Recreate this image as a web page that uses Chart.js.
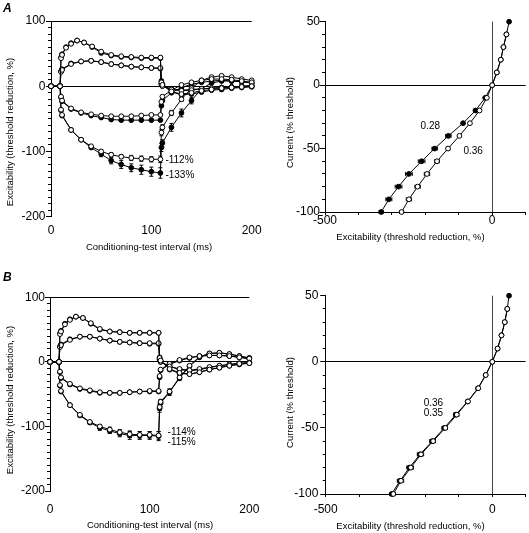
<!DOCTYPE html>
<html>
<head>
<meta charset="utf-8">
<script src="https://cdn.jsdelivr.net/npm/chart.js@4.4.1/dist/chart.umd.min.js"></script>
<style>
  html, body { margin: 0; padding: 0; background: #fff; }
  #fig { position: relative; width: 529px; height: 533px; overflow: hidden; background: #fff; }
  #fig canvas { position: absolute; }
</style>
</head>
<body>
<div id="fig">
  <canvas id="teA" width="265" height="260" style="left:0px;top:0px"></canvas>
  <canvas id="ivA" width="264" height="260" style="left:265px;top:0px"></canvas>
  <canvas id="teB" width="265" height="273" style="left:0px;top:260px"></canvas>
  <canvas id="ivB" width="264" height="273" style="left:265px;top:260px"></canvas>
</div>
<script>
// ---------------- data ----------------
// Threshold electrotonus: conditioning-test interval (ms)
const timesFine   = [0, 9, 10, 11, 15, 20, 26, 33, 41, 50, 60, 70, 80, 90, 100, 109, 110, 111, 120, 130, 140, 150, 160, 170, 180, 190, 200];
const timesCoarse = [0, 9, 10, 11, 20, 30, 40, 50, 60, 70, 80, 90, 100, 109, 110, 111, 120, 130, 140, 150, 160, 170, 180, 190, 200];

// Panel A, threshold reduction (%)
const A_TEd40_open   = [0, 0, 43, 48, 59, 65, 70, 67, 61, 53, 48, 46, 45, 44, 44, 44, 6, 2, -8, -12, -10, -7, -5, -3, -2, -1, 0];
const A_TEd40_filled = [0, 0, 44, 49, 60, 66, 70, 67, 60, 51, 47, 45, 44, 43, 43, 43, 8, 3, -9, -13, -12, -9, -6, -5, -3, -2, -1];
const A_TEd20_open   = [0, 0, 22, 25, 34, 38, 39, 37, 34, 32, 30, 29, 28, 28, 3, 0, -5, -7, -6, -4, -3, -2, -1, 0, 0];
const A_TEd20_filled = [0, 0, 23, 26, 35, 38, 39, 37, 34, 32, 30, 29, 28, 27, 4, 1, -4, -6, -5, -4, -3, -2, -1, 0, 1];
const A_TEh20_open   = [0, 0, -16, -22, -34, -40, -43, -45, -46, -46, -46, -45, -44, -44, -24, -16, -6, 2, 6, 9, 11, 11, 10, 8, 6];
const A_TEh20_filled = [0, 0, -17, -23, -35, -41, -45, -48, -51, -52, -52, -52, -52, -52, -30, -22, -10, -2, 3, 6, 8, 9, 8, 7, 5];
const A_TEh40_open   = [0, 0, -36, -44, -67, -82, -92, -100, -105, -108, -110, -111, -112, -112, -71, -63, -41, -20, -3, 9, 14, 16, 14, 11, 9];
const A_TEh40_filled = [0, 0, -37, -45, -67, -82, -94, -104, -114, -120, -125, -128, -131, -133, -94, -87, -63, -41, -22, -4, 5, 8, 8, 7, 5];
const A_TEh40_filled_err = [0, 0, 0, 0, 0, 0, 2, 4, 5, 6, 6, 7, 7, 8, 6, 5, 6, 6, 5, 3, 0, 0, 0, 0, 0];
const A_TEh40_open_err   = [0, 0, 0, 0, 0, 0, 0, 2, 3, 3, 4, 4, 4, 5, 5, 4, 4, 3, 0, 0, 0, 0, 0, 0, 0];

// Panel B, threshold reduction (%)
const B_TEd40_open   = [0, 0, 43, 47, 58, 65, 70, 68, 60, 51, 47, 46, 45, 45, 45, 45, 6, 2, -11, -17, -19, -16, -12, -9, -6, -3, -2];
const B_TEd40_filled = [0, 0, 44, 48, 59, 66, 70, 68, 59, 50, 47, 46, 45, 45, 45, 45, 7, 2, -12, -18, -19, -16, -12, -9, -6, -4, -2];
const B_TEd20_open   = [0, 0, 23, 26, 34, 39, 39, 36, 33, 31, 30, 29, 29, 29, 3, 0, -7, -11, -13, -11, -8, -6, -4, -2, -1];
const B_TEd20_filled = [0, 0, 24, 27, 35, 39, 39, 36, 33, 31, 30, 29, 28, 28, 4, 0, -7, -12, -14, -12, -9, -6, -4, -3, -1];
const B_TEh20_open   = [0, 0, -15, -24, -34, -41, -44, -47, -48, -48, -47, -46, -45, -45, -22, -12, -3, 3, 7, 9, 10, 10, 9, 7, 5];
const B_TEh20_filled = [0, 0, -16, -25, -35, -42, -45, -48, -48, -48, -47, -46, -46, -46, -24, -13, -4, 2, 6, 9, 10, 10, 9, 7, 5];
const B_TEh40_open   = [0, 0, -36, -45, -67, -82, -93, -100, -105, -109, -112, -113, -113, -114, -70, -62, -46, -24, -6, 8, 13, 14, 12, 9, 6];
const B_TEh40_filled = [0, 0, -37, -46, -67, -83, -94, -102, -107, -111, -114, -114, -114, -115, -72, -64, -47, -25, -7, 7, 13, 14, 12, 9, 6];
const B_TEh40_filled_err = [0, 0, 0, 0, 0, 0, 3, 4, 4, 5, 6, 6, 6, 7, 6, 5, 5, 4, 0, 0, 0, 0, 0, 0, 0];
const B_TEh40_open_err   = [0, 0, 0, 0, 0, 0, 2, 3, 4, 4, 5, 5, 5, 6, 5, 4, 4, 3, 0, 0, 0, 0, 0, 0, 0];

// Current-threshold relationship: current (% threshold) vs threshold reduction (%)
const currentSteps = [50, 40, 30, 20, 10, 0, -10, -20, -30, -40, -50, -60, -70, -80, -90, -100];
const A_IV_open       = [null, 42.7, 33.7, 25.8, 13.9, 0, -15.9, -37.7, -66.5, -98, -132, -165, -195, -223, -249, -271];
const A_IV_filled     = [50.6, 42.7, 33.7, 25.8, 13.9, 0, -21, -50, -87, -131, -172, -211, -249, -280, -309, -332];
const A_IV_open_err   = [0, 0, 0, 0, 0, 0, 0, 0, 0, 0, 5, 7, 8, 8, 8, 6];
const A_IV_filled_err = [0, 0, 0, 0, 0, 0, 0, 0, 0, 8, 8, 10, 10, 10, 9, 6];
const B_IV_open       = [null, 45, 37.5, 27.6, 15.8, 0, -19.7, -42, -73, -106.5, -141, -177.5, -214, -244.6, -274, -297];
const B_IV_filled     = [50.3, 45, 37.5, 27.6, 15.8, 0, -20, -43, -74, -109.5, -144, -180, -217, -248.5, -277, -302];
const B_IV_open_err   = [0, 0, 0, 0, 0, 0, 0, 0, 0, 6, 6, 7, 8, 8, 8, 5];
const B_IV_filled_err = [0, 0, 0, 0, 0, 0, 0, 0, 0, 7, 7, 8, 8, 8, 8, 5];

// tick labels / texts
const teXTicks = [0, 100, 200];
const teYMajor = [-200, -100, 0, 100];
const ivXTicks = [-500, -400, -300, -200, -100, 0, 100];
const ivXLabelled = [-500, 0];
const ivYMajor = [-100, -50, 0, 50];
const teXTitle = 'Conditioning-test interval (ms)';
const teYTitle = 'Excitability (threshold reduction, %)';
const ivXTitle = 'Excitability (threshold reduction, %)';
const ivYTitle = 'Current (% threshold)';
const notesTeA = ['-112%', '-133%'];
const notesTeB = ['-114%', '-115%'];
const notesIvA = ['0.28', '0.36'];
const notesIvB = ['0.36', '0.35'];

// ---------------- drawing ----------------
const FAMILY = "'Liberation Sans', Arial, Helvetica, sans-serif";
const BLACK = '#000';
const NONE = 'rgba(0,0,0,0)';
const tickFont = { family: FAMILY, size: 12, lineHeight: 1 };
const letterFont = { family: FAMILY, size: 12, style: 'italic', lineHeight: 1.2 };
const TITLE_SIZE = 9.5;

function steps(a, b, s) { const r = []; for (let v = a; v <= b + 1e-9; v += s) r.push(Math.round(v)); return r; }
function tePoints(times, vals, errs) { return times.map((t, i) => ({ x: t, y: vals[i], e: errs ? errs[i] : 0 })); }
function ivPoints(curr, exc, errs) {
  return curr.map((c, i) => ({ x: exc[i], y: c, e: errs ? errs[i] : 0 })).filter(p => p.x !== null);
}
function series(points, filled, errAxis) {
  return {
    data: points, showLine: true, tension: 0, clip: false,
    borderColor: BLACK, borderWidth: 1,
    pointRadius: 2.4, pointHoverRadius: 2.4, pointBorderWidth: 1,
    pointBorderColor: BLACK, pointBackgroundColor: filled ? BLACK : '#fff',
    backgroundColor: filled ? BLACK : '#fff',
    errAxis: errAxis || 'y'
  };
}

const errorBars = {
  id: 'errorBars',
  beforeDatasetsDraw(chart) {
    const ctx = chart.ctx, xs = chart.scales.x, ys = chart.scales.y;
    ctx.save(); ctx.strokeStyle = BLACK; ctx.lineWidth = 1;
    chart.data.datasets.forEach(ds => {
      ds.data.forEach(p => {
        if (!p.e) return;
        ctx.beginPath();
        if (ds.errAxis === 'x') {
          const y = ys.getPixelForValue(p.y);
          const x1 = xs.getPixelForValue(p.x - p.e), x2 = xs.getPixelForValue(p.x + p.e);
          ctx.moveTo(x1, y); ctx.lineTo(x2, y);
          ctx.moveTo(x1, y - 2); ctx.lineTo(x1, y + 2);
          ctx.moveTo(x2, y - 2); ctx.lineTo(x2, y + 2);
        } else {
          const x = xs.getPixelForValue(p.x);
          const y1 = ys.getPixelForValue(p.y - p.e), y2 = ys.getPixelForValue(p.y + p.e);
          ctx.moveTo(x, y1); ctx.lineTo(x, y2);
          ctx.moveTo(x - 2, y1); ctx.lineTo(x + 2, y1);
          ctx.moveTo(x - 2, y2); ctx.lineTo(x + 2, y2);
        }
        ctx.stroke();
      });
    });
    ctx.restore();
  }
};

// in-plot value labels, anchored in data coordinates
const notes = {
  id: 'notes',
  afterDatasetsDraw(chart, args, opts) {
    const items = opts.items || [];
    const ctx = chart.ctx, xs = chart.scales.x, ys = chart.scales.y;
    ctx.save();
    ctx.fillStyle = BLACK; ctx.font = (opts.size || 10) + 'px ' + FAMILY;
    ctx.textAlign = 'left'; ctx.textBaseline = 'middle';
    items.forEach(it => ctx.fillText(it.text, xs.getPixelForValue(it.x), ys.getPixelForValue(it.y)));
    ctx.restore();
  }
};

// axis titles, placed where the original figure has them
const axisTitles = {
  id: 'axisTitles',
  afterDraw(chart, args, opts) {
    const ctx = chart.ctx;
    ctx.save();
    ctx.fillStyle = BLACK; ctx.font = TITLE_SIZE + 'px ' + FAMILY;
    ctx.textAlign = 'center'; ctx.textBaseline = 'middle';
    (opts.items || []).forEach(it => {
      ctx.save();
      ctx.translate(it.cx, it.cy);
      if (it.vertical) ctx.rotate(-Math.PI / 2);
      ctx.fillText(it.text, 0, 0);
      ctx.restore();
    });
    ctx.restore();
  }
};

function baseOptions(L, scales, letter, noteItems, titleItems) {
  return {
    responsive: false, animation: false, devicePixelRatio: 1, events: [],
    layout: { padding: { left: L.padL, right: L.padR, top: L.padT, bottom: 0 } },
    plugins: {
      legend: { display: false }, tooltip: { enabled: false },
      title: letter ? { display: true, text: letter, align: 'start', color: BLACK, font: letterFont,
                        padding: { top: L.letTop, bottom: L.letBot } } : { display: false },
      notes: { items: noteItems, size: 10 },
      axisTitles: { items: titleItems }
    },
    scales: scales
  };
}

function noAutoPad(s) { s.paddingLeft = 0; s.paddingRight = 0; s.paddingTop = 0; s.paddingBottom = 0; }

function teScales(L) {
  return {
    x: {
      type: 'linear', min: 0, max: 200,
      afterBuildTicks: s => { s.ticks = teXTicks.map(v => ({ value: v })); },
      grid: { display: false, drawTicks: false, tickLength: 0 }, border: { display: false },
      ticks: { color: BLACK, font: tickFont, padding: L.xPad, maxRotation: 0, autoSkip: false },
      title: { display: false },
      afterFit: s => { s.height = L.xH; noAutoPad(s); }
    },
    y: {
      type: 'linear', position: 'left', weight: 2, min: -200, max: 100,
      afterBuildTicks: s => { s.ticks = steps(-200, 100, 10).map(v => ({ value: v })); },
      ticks: { color: BLACK, font: tickFont, padding: L.yPad, autoSkip: false,
               callback: v => (teYMajor.includes(v) ? String(v) : '') },
      grid: { color: c => (c.tick && (c.tick.value === 0 || c.tick.value === 100)) ? BLACK : NONE,
              tickColor: BLACK, tickLength: 3, lineWidth: 1 },
      border: { display: true, color: BLACK, width: 1 },
      title: { display: false },
      afterFit: s => { s.width = L.yW; noAutoPad(s); }
    },
    yMajor: {
      type: 'linear', position: 'left', weight: 1, min: -200, max: 100,
      afterBuildTicks: s => { s.ticks = teYMajor.map(v => ({ value: v })); },
      ticks: { display: false },
      grid: { drawOnChartArea: false, tickLength: 5, tickColor: BLACK, color: BLACK },
      border: { display: false },
      afterFit: s => { s.width = 0; noAutoPad(s); }
    }
  };
}

function ivScales(L) {
  return {
    x: {
      type: 'linear', min: -500, max: 100,
      afterBuildTicks: s => { s.ticks = ivXTicks.map(v => ({ value: v })); },
      ticks: { color: BLACK, font: tickFont, padding: L.xPad, maxRotation: 0, autoSkip: false,
               callback: v => (ivXLabelled.includes(v) ? String(v) : '') },
      grid: { color: c => (c.tick && c.tick.value === 0) ? '#444' : NONE, tickColor: BLACK, tickLength: 3, lineWidth: 1 },
      border: { display: true, color: BLACK, width: 1 },
      title: { display: false },
      afterFit: s => { s.height = L.xH; noAutoPad(s); }
    },
    y: {
      type: 'linear', position: 'left', weight: 2, min: -100, max: 50,
      afterBuildTicks: s => { s.ticks = steps(-100, 50, 10).map(v => ({ value: v })); },
      ticks: { color: BLACK, font: tickFont, padding: L.yPad, autoSkip: false,
               callback: v => (ivYMajor.includes(v) ? String(v) : '') },
      grid: { color: c => (c.tick && c.tick.value === 0) ? BLACK : NONE, tickColor: BLACK, tickLength: 3, lineWidth: 1 },
      border: { display: true, color: BLACK, width: 1 },
      title: { display: false },
      afterFit: s => { s.width = L.yW; noAutoPad(s); }
    },
    yMajor: {
      type: 'linear', position: 'left', weight: 1, min: -100, max: 50,
      afterBuildTicks: s => { s.ticks = ivYMajor.map(v => ({ value: v })); },
      ticks: { display: false },
      grid: { drawOnChartArea: false, tickLength: 5.5, tickColor: BLACK, color: BLACK },
      border: { display: false },
      afterFit: s => { s.width = 0; noAutoPad(s); }
    }
  };
}

const plugins = [errorBars, notes, axisTitles];

// Panel A, left
const LteA = { padL: 3, padR: 13.3, padT: 0, letTop: 1.8, letBot: 4.8, xH: 43.3, yW: 48, xPad: 8.3, yPad: 2.5 };
new Chart(document.getElementById('teA'), {
  type: 'scatter',
  data: { datasets: [
    series(tePoints(timesFine, A_TEd40_open), false),
    series(tePoints(timesCoarse, A_TEd20_open), false),
    series(tePoints(timesCoarse, A_TEh20_open), false),
    series(tePoints(timesCoarse, A_TEh40_open, A_TEh40_open_err), false),
    series(tePoints(timesFine, A_TEd40_filled), true),
    series(tePoints(timesCoarse, A_TEd20_filled), true),
    series(tePoints(timesCoarse, A_TEh20_filled), true),
    series(tePoints(timesCoarse, A_TEh40_filled, A_TEh40_filled_err), true)
  ] },
  options: baseOptions(LteA, teScales(LteA), 'A',
    [{ text: notesTeA[0], x: 114, y: -114 }, { text: notesTeA[1], x: 114, y: -137 }],
    [{ text: teYTitle, cx: 10, cy: 132, vertical: true }, { text: teXTitle, cx: 149, cy: 247 }]),
  plugins: plugins
});

// Panel A, right
const LivA = { padL: 0, padR: 2, padT: 21.7, xH: 48, yW: 60, xPad: 0, yPad: 2 };
new Chart(document.getElementById('ivA'), {
  type: 'scatter',
  data: { datasets: [
    series(ivPoints(currentSteps, A_IV_open, A_IV_open_err), false, 'x'),
    series(ivPoints(currentSteps, A_IV_filled, A_IV_filled_err), true, 'x')
  ] },
  options: baseOptions(LivA, ivScales(LivA), null,
    [{ text: notesIvA[0], x: -214, y: -32.7 }, { text: notesIvA[1], x: -86, y: -52.4 }],
    [{ text: ivYTitle, cx: 25, cy: 122.5, vertical: true }, { text: ivXTitle, cx: 145.5, cy: 237.3 }]),
  plugins: plugins
});

// Panel B, left
const LteB = { padL: 3, padR: 15.7, padT: 0, letTop: 10.3, letBot: 12.6, xH: 42, yW: 47, xPad: 13, yPad: 2 };
new Chart(document.getElementById('teB'), {
  type: 'scatter',
  data: { datasets: [
    series(tePoints(timesFine, B_TEd40_open), false),
    series(tePoints(timesCoarse, B_TEd20_open), false),
    series(tePoints(timesCoarse, B_TEh20_open), false),
    series(tePoints(timesCoarse, B_TEh40_open, B_TEh40_open_err), false),
    series(tePoints(timesFine, B_TEd40_filled), true),
    series(tePoints(timesCoarse, B_TEd20_filled), true),
    series(tePoints(timesCoarse, B_TEh20_filled), true),
    series(tePoints(timesCoarse, B_TEh40_filled, B_TEh40_filled_err), true)
  ] },
  options: baseOptions(LteB, teScales(LteB), 'B',
    [{ text: notesTeB[0], x: 118, y: -109 }, { text: notesTeB[1], x: 118, y: -124 }],
    [{ text: teYTitle, cx: 10, cy: 140, vertical: true }, { text: teXTitle, cx: 150, cy: 265.7 }]),
  plugins: plugins
});

// Panel B, right
const LivB = { padL: 0, padR: 1, padT: 35.7, xH: 39, yW: 60.7, xPad: 7, yPad: 4.4 };
new Chart(document.getElementById('ivB'), {
  type: 'scatter',
  data: { datasets: [
    series(ivPoints(currentSteps, B_IV_open, B_IV_open_err), false, 'x'),
    series(ivPoints(currentSteps, B_IV_filled, B_IV_filled_err), true, 'x')
  ] },
  options: baseOptions(LivB, ivScales(LivB), null,
    [{ text: notesIvB[0], x: -206, y: -31 }, { text: notesIvB[1], x: -206, y: -39.2 }],
    [{ text: ivYTitle, cx: 25, cy: 142.5, vertical: true }, { text: ivXTitle, cx: 145.5, cy: 266.7 }]),
  plugins: plugins
});
</script>
</body>
</html>
